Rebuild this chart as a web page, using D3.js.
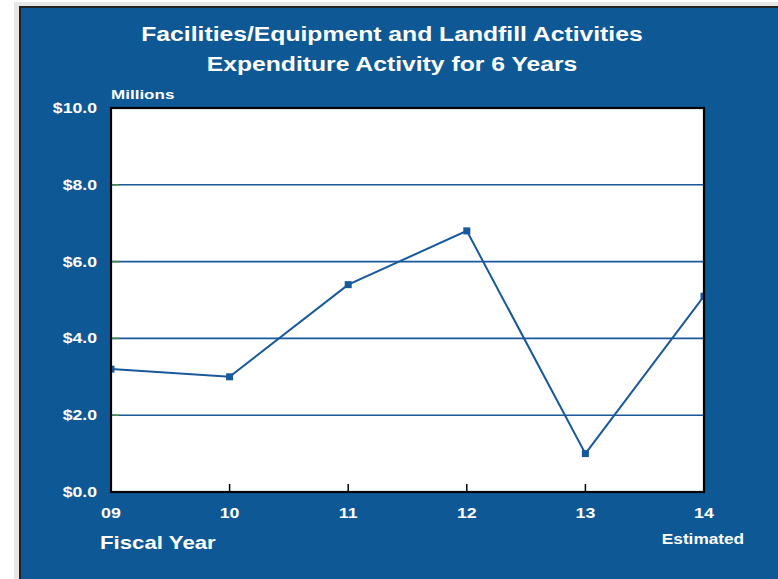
<!DOCTYPE html>
<html><head><meta charset="utf-8">
<script src="https://cdn.jsdelivr.net/npm/d3@7"></script>
<style>body{margin:0;background:#fff;}svg{display:block;font-family:"Liberation Sans",Arial,sans-serif;font-weight:bold;}</style>
</head><body>
<script>
const years = ["09","10","11","12","13","14"];
const values = [3.2, 3.0, 5.4, 6.8, 1.0, 5.1];
const yTicks = [0, 2, 4, 6, 8, 10];
const titleLines = ["Facilities/Equipment and Landfill Activities", "Expenditure Activity for 6 Years"];

const W = 778, H = 579;
const blue = "#0e5896", lineCol = "#17599a";
const m = {left: 111, right: 704, top: 108, bottom: 492};

const svg = d3.select("body").append("svg").attr("width", W).attr("height", H);
svg.append("rect").attr("x",14).attr("y",2).attr("width",W).attr("height",H).attr("fill","#e6e6e6");
svg.append("rect").attr("x",19).attr("y",6).attr("width",W).attr("height",H).attr("fill","#222");
svg.append("rect").attr("x",21).attr("y",8).attr("width",W).attr("height",H).attr("fill",blue);

const x = d3.scalePoint().domain(years).range([m.left, m.right]);
const y = d3.scaleLinear().domain([0, 10]).range([m.bottom, m.top]);

function stretch(sel, f) {
  sel.each(function(){
    const w = this.getComputedTextLength();
    d3.select(this).attr("textLength", w*f).attr("lengthAdjust","spacingAndGlyphs");
  });
  return sel;
}

svg.append("rect").attr("x",m.left).attr("y",m.top).attr("width",m.right-m.left).attr("height",m.bottom-m.top).attr("fill","#fff");

// grid
const g = svg.append("g");
const inner = yTicks.filter(d=>d>0 && d<10);
g.selectAll("line.grid").data(inner).join("line").attr("class","grid")
  .attr("x1",m.left).attr("x2",m.right).attr("y1",d=>y(d)).attr("y2",d=>y(d))
  .attr("stroke",lineCol).attr("stroke-width",1.6);
g.selectAll("line.gt").data(inner).join("line").attr("class","gt")
  .attr("x1",m.left).attr("x2",m.left+8).attr("y1",d=>y(d)).attr("y2",d=>y(d))
  .attr("stroke","#4d8a5a").attr("stroke-width",1.6);

// x ticks
svg.append("g").selectAll("line").data(years.slice(1,5)).join("line")
  .attr("x1",d=>x(d)).attr("x2",d=>x(d)).attr("y1",m.bottom).attr("y2",m.bottom-8)
  .attr("stroke","#000").attr("stroke-width",1.5);

// clip
svg.append("clipPath").attr("id","clip").append("rect")
  .attr("x",m.left).attr("y",m.top).attr("width",m.right-m.left).attr("height",m.bottom-m.top);
const data = years.map((d,i)=>({yr:d, v:values[i]}));
const pg = svg.append("g").attr("clip-path","url(#clip)");
pg.append("path").datum(data)
  .attr("d", d3.line().x(d=>x(d.yr)).y(d=>y(d.v)))
  .attr("fill","none").attr("stroke",lineCol).attr("stroke-width",2);
pg.selectAll("rect.pt").data(data).join("rect").attr("class","pt")
  .attr("x",d=>x(d.yr)-3.5).attr("y",d=>y(d.v)-3.5).attr("width",7).attr("height",7).attr("fill",lineCol);

// border
svg.append("rect").attr("x",m.left).attr("y",m.top).attr("width",m.right-m.left).attr("height",m.bottom-m.top)
  .attr("fill","none").attr("stroke","#000").attr("stroke-width",2.2);

// y labels
stretch(svg.append("g").selectAll("text").data(yTicks).join("text")
  .attr("x",97).attr("y",d=>y(d)+5).attr("text-anchor","end").attr("fill","#fff").attr("font-size",14)
  .text(d=>"$"+d.toFixed(1)), 1.26);
// x labels
stretch(svg.append("g").selectAll("text").data(years).join("text")
  .attr("x",d=>x(d)).attr("y",518).attr("text-anchor","middle").attr("fill","#fff").attr("font-size",14)
  .text(d=>d), 1.27);

stretch(svg.selectAll("text.title").data(titleLines).join("text").attr("class","title")
  .attr("x",392).attr("y",(d,i)=>41+i*30).attr("text-anchor","middle").attr("fill","#fff").attr("font-size",20)
  .text(d=>d), 1.235);
stretch(svg.append("text").attr("x",111).attr("y",99).attr("fill","#fff").attr("font-size",13).text("Millions"), 1.31);
stretch(svg.append("text").attr("x",100).attr("y",549).attr("fill","#fff").attr("font-size",17.5).text("Fiscal Year"), 1.27);
stretch(svg.append("text").attr("x",703).attr("y",544).attr("text-anchor","middle").attr("fill","#fff").attr("font-size",14).text("Estimated"), 1.23);
</script>
</body></html>
